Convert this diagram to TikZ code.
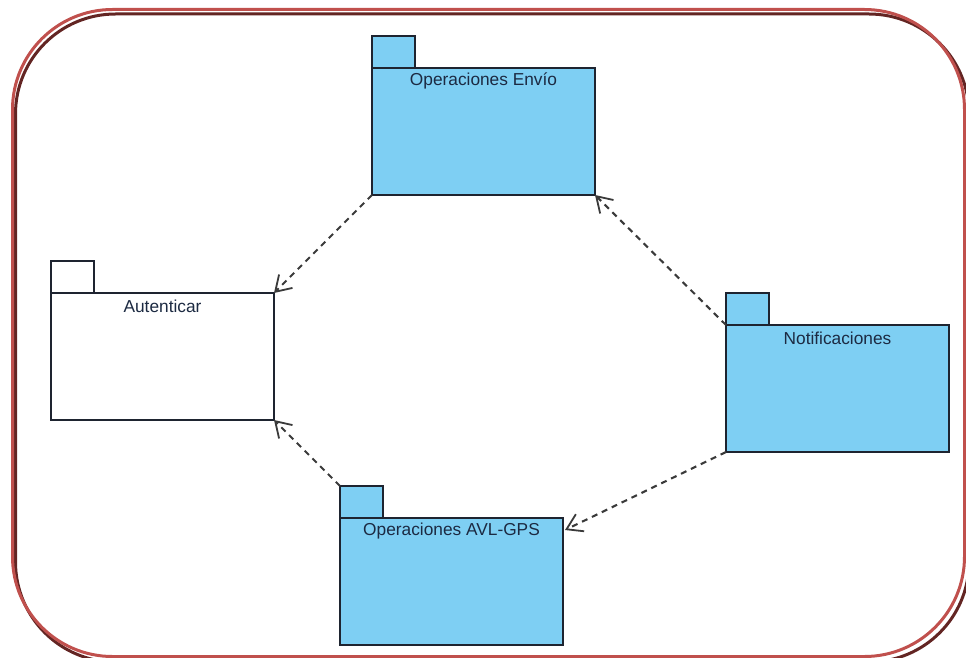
\documentclass[tikz,border=0pt]{standalone}
\usepackage{fontspec}
\setmainfont{Liberation Sans}
\usetikzlibrary{arrows.meta}

\definecolor{pkgblue}{HTML}{7ECFF3}
\definecolor{pkgline}{HTML}{1E2430}
\definecolor{pkgtext}{HTML}{1C2A42}
\definecolor{deplinecol}{HTML}{3A3A3A}
\definecolor{frameRed}{HTML}{C0504D}
\definecolor{frameDark}{HTML}{632523}

\tikzset{
  pkgbody/.style={draw=pkgline, line width=1.9pt, rectangle, inner sep=0pt, outer sep=0pt,
    minimum width=223pt, minimum height=127pt, anchor=north west},
  pkgtab/.style={draw=pkgline, line width=1.9pt, rectangle, inner sep=0pt, outer sep=0pt,
    minimum width=43pt, minimum height=32pt, anchor=south west},
  pkglabel/.style={font=\fontsize{17.3}{20}\selectfont, text=pkgtext, anchor=center},
  dependency/.style={draw=deplinecol, line width=2.1pt, dash pattern=on 6pt off 5pt,
    -{Straight Barb[length=15pt,width=19pt,line width=1.8pt]}},
}

% one UML package: tab, body and name
\newcommand\umlpackage[5]{% name, x, y (body top-left), fill, text
  \node[pkgbody, fill=#4] (#1) at (#2,#3) {};
  \node[pkgtab, fill=#4] (#1tab) at (#1.north west) {};
  \node[pkglabel] (#1label) at ([yshift=-13pt]#1.north) {#5};
}

\begin{document}
\begin{tikzpicture}[x=1pt, y=-1pt]
  \useasboundingbox (0,0) rectangle (966,658);

  % framed page border with offset shadow line
  \draw[frameDark, line width=3pt, rounded corners=100pt] (15.5,14) rectangle (969,662);
  \draw[frameRed, line width=3pt, rounded corners=100pt] (12.5,9.5) rectangle (964.5,656.5);

  \umlpackage{envio}{372}{68}{pkgblue}{Operaciones Envío}
  \umlpackage{aut}{51}{293}{white}{Autenticar}
  \umlpackage{notif}{726}{325}{pkgblue}{Notificaciones}
  \umlpackage{avl}{340}{518}{pkgblue}{Operaciones AVL-GPS}

  % dependencies
  \draw[dependency] (envio.south west) -- (aut.north east);
  \draw[dependency] (notif.north west) -- (envio.south east);
  \draw[dependency] (avltab.north west) -- (aut.south east);
  \coordinate (avlside) at ([xshift=2pt,yshift=-12pt]avl.north east);
  \draw[dependency] (notif.south west) -- (avlside);
\end{tikzpicture}
\end{document}
